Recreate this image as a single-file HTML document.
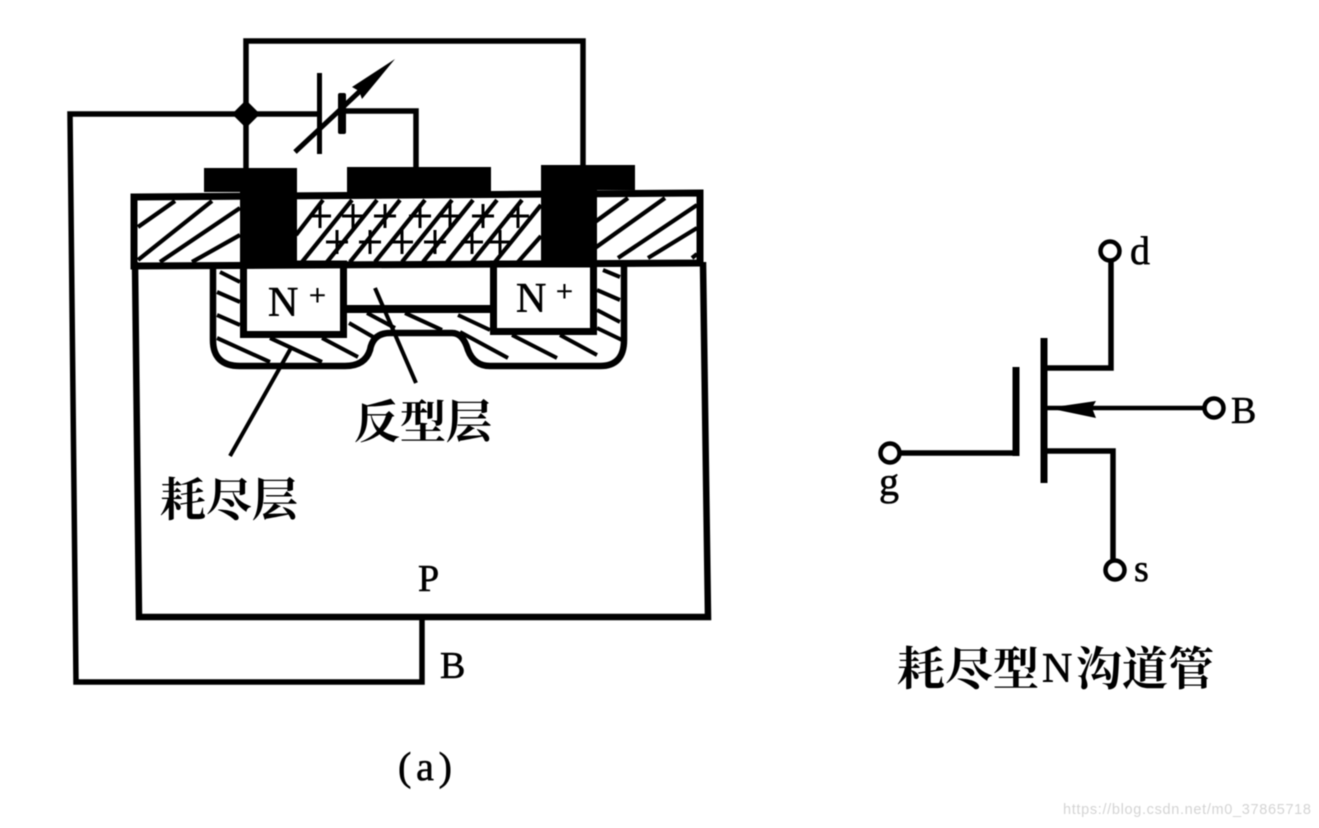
<!DOCTYPE html>
<html><head><meta charset="utf-8"><style>
html,body{margin:0;padding:0;background:#fff}
svg{display:block;filter:blur(.4px)}
.s{font-family:"Liberation Serif","Noto Serif CJK SC",serif;fill:#000;stroke:#000;stroke-width:.6px}
.c{font-family:"Liberation Serif","Noto Serif CJK SC",serif;font-weight:700;fill:#000}
</style></head><body>
<svg xmlns="http://www.w3.org/2000/svg" width="1319" height="828" viewBox="0 0 1319 828">
<rect width="1319" height="828" fill="#fff"/>
<g fill="none" stroke="#000">
<!-- wires -->
<path d="M246 170V41H583V168" stroke-width="5.5"/>
<path d="M246 114H70L76 682H422V617" stroke-width="5.5"/>
<path d="M246 114H318M342 111H416V170" stroke-width="5.5"/>
<!-- body -->
<path d="M135 262L139 617H708L703 262" stroke-width="6.5"/>
<!-- hatch oxide -->
<g stroke-width="4.2">
<path d="M138 227L175 201M138 260L212 201M160 262L240 208M192 262L240 235"/>
<path d="M595 222L628 198M595 248L665 198M618 258L697 205M648 258L697 228M692 258L697 254"/>
<path d="M296 235L323 200M302 262L352 200M327 262L377 200M350 262L400 200M375 262L425 200M402 262L452 200M423 262L473 200M447 262L497 200M472 262L522 200M495 262L541 205M518 262L541 236"/>
</g>
<!-- depletion hatch -->
<g stroke-width="4">
<path d="M220 272L240 282M217 292L240 302M217 315L240 325M217 338L270 362M270 338L322 362M322 338L358 357M349 323L375 338M367 313L395 328M405 313L442 330M458 315L490 330M460 332L508 358M512 335L557 358M560 335L597 355M603 270L620 277M597 290L620 300M597 310L620 322M597 328L622 340"/>
</g>
<path d="M213 266V340Q213 366 240 366H345Q365 366 370 350Q373 333 390 333H452Q463 333 468 350Q474 366 490 366H600Q624 366 624 340V264" stroke-width="6.5"/>
</g>
<!-- N+ and channel -->
<rect x="243.5" y="264" width="100" height="70.5" fill="#fff" stroke="#000" stroke-width="7"/>
<rect x="493.5" y="264" width="100" height="67.5" fill="#fff" stroke="#000" stroke-width="7"/>
<rect x="347" y="266" width="143" height="38" fill="#fff"/>
<rect x="346" y="305" width="146" height="8" fill="#000"/>
<!-- oxide outline -->
<path d="M134 197L700 193V263L134 266Z" fill="none" stroke="#000" stroke-width="7"/>
<!-- metal -->
<path d="M204 168H297V268H240V192H204Z M347 167H491V192H347Z M541 165H635V190H597V266H541Z" fill="#000"/>
<!-- battery -->
<path d="M246 100L260 114L246 128L232 114Z" fill="#000"/>
<rect x="317" y="73" width="5" height="81" fill="#000"/>
<rect x="338" y="93" width="8" height="41" rx="2" fill="#000"/>
<path d="M295 152L375 77" stroke="#000" stroke-width="5" fill="none"/>
<path d="M395 59L352 87L359 91L362 99Z" fill="#000"/>
<!-- leaders -->
<path d="M291 348L230 456M375 288L416 383" stroke="#000" stroke-width="4" fill="none"/>
<!-- plus signs -->
<g stroke="#000" stroke-width="3" fill="none">
<path d="M309 216H331M320 204V228M342 216H364M353 204V228M374 216H396M385 204V228M409 216H431M420 204V228M439 216H461M450 204V228M472 216H494M483 204V228M507 216H529M518 204V228"/>
<path d="M326 242H348M337 230V254M359 242H381M370 230V254M391 242H413M402 230V254M424 242H446M435 230V254M461 242H483M472 230V254M489 242H511M500 230V254"/>
</g>
<!-- MOSFET symbol -->
<g fill="none" stroke="#000">
<circle cx="1110" cy="251" r="9.5" stroke-width="4.5"/>
<circle cx="1214" cy="408" r="9.5" stroke-width="4.5"/>
<circle cx="890" cy="453" r="9.5" stroke-width="4.5"/>
<circle cx="1115" cy="570" r="9.5" stroke-width="4.5"/>
<path d="M1111 261V368H1045" stroke-width="5.5"/>
<path d="M1204 408H1046" stroke-width="4.5"/>
<path d="M1045 451H1113V560" stroke-width="5.5"/>
<path d="M900 453H1016" stroke-width="5.5"/>
<path d="M1016 367V456" stroke-width="7"/>
<path d="M1044 338V483" stroke-width="7"/>
</g>
<path d="M1048 408L1096 401L1092 408L1096 418Z" fill="#000"/>
<!-- labels -->
<text class="s" x="268" y="316" font-size="42">N</text>
<text class="s" x="309" y="305" font-size="30">+</text>
<text class="s" x="516" y="312" font-size="42">N</text>
<text class="s" x="556" y="301" font-size="30">+</text>
<text class="c" x="354" y="438" font-size="46" textLength="138" lengthAdjust="spacingAndGlyphs">反型层</text>
<text class="c" x="160" y="516" font-size="46" textLength="138" lengthAdjust="spacingAndGlyphs">耗尽层</text>
<text class="s" x="418" y="591" font-size="38">P</text>
<text class="s" x="440" y="678" font-size="38">B</text>
<text class="s" x="398" y="780" font-size="40" textLength="54">(a)</text>
<text class="s" x="1130" y="264" font-size="40">d</text>
<text class="s" x="1231" y="423" font-size="38">B</text>
<text class="s" x="879" y="495" font-size="40">g</text>
<text class="s" x="1134" y="581" font-size="38">s</text>
<text class="c" x="897" y="685" font-size="46" textLength="96" lengthAdjust="spacingAndGlyphs">耗尽</text>
<text class="c" x="993" y="685" font-size="46">型</text>
<text class="s" x="1042" y="682" font-size="42">N</text>
<text class="c" x="1076" y="685" font-size="46" textLength="138" lengthAdjust="spacingAndGlyphs">沟道管</text>
<text x="1063" y="814" font-family="Liberation Sans, sans-serif" font-size="14.5" fill="#d4d4d4" textLength="248">https://blog.csdn.net/m0_37865718</text>
</svg>
</body></html>
